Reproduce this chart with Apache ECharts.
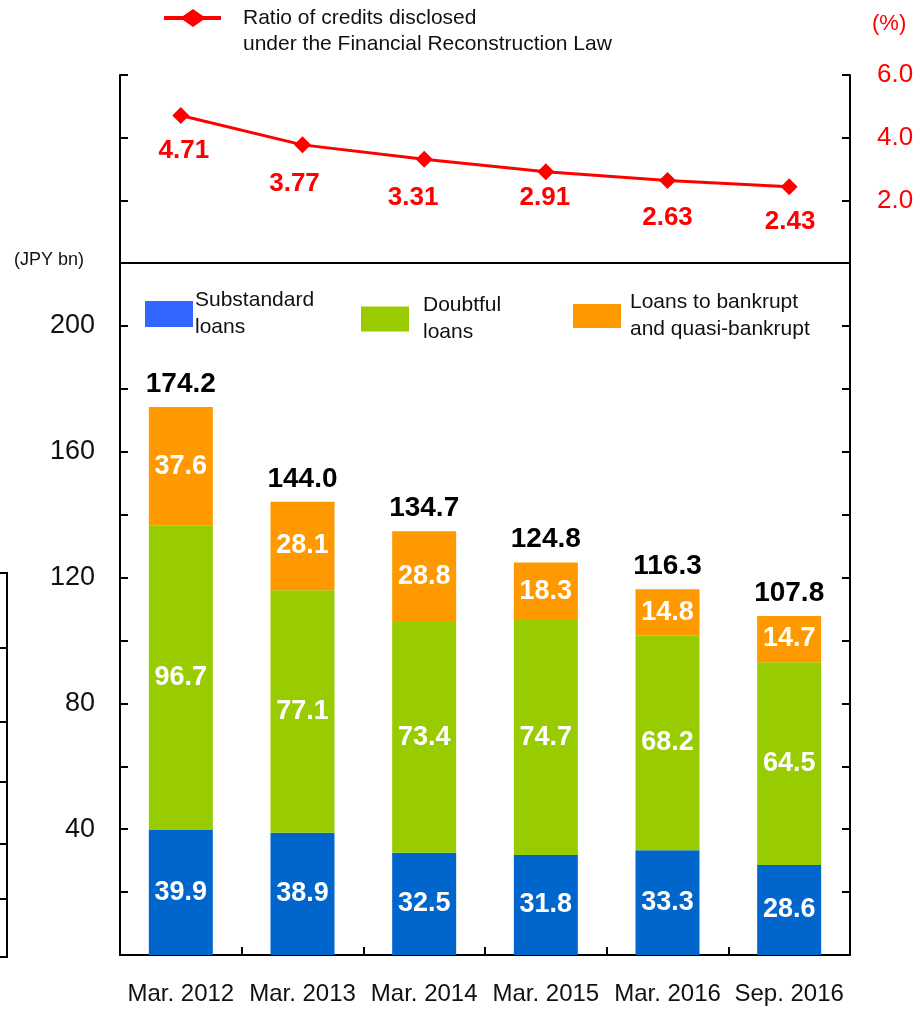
<!DOCTYPE html>
<html>
<head>
<meta charset="utf-8">
<script src="https://cdn.jsdelivr.net/npm/echarts@6/dist/echarts.min.js"></script>
<style>
html,body{margin:0;padding:0;background:#fff;}
#chart{width:924px;height:1009px;}
</style>
</head>
<body>
<div id="chart"></div>
<script>
// ---- data ----
const categories = ['Mar. 2012', 'Mar. 2013', 'Mar. 2014', 'Mar. 2015', 'Mar. 2016', 'Sep. 2016'];
const substandard = [39.9, 38.9, 32.5, 31.8, 33.3, 28.6];
const doubtful = [96.7, 77.1, 73.4, 74.7, 68.2, 64.5];
const bankrupt = [37.6, 28.1, 28.8, 18.3, 14.8, 14.7];
const totals = [174.2, 144.0, 134.7, 124.8, 116.3, 107.8];
const ratio = [4.71, 3.77, 3.31, 2.91, 2.63, 2.43];
const amountTickLabels = [40, 80, 120, 160, 200];
const ratioTickLabels = [2, 4, 6];

const seriesNames = {
  sub: 'Substandard loans',
  dbt: 'Doubtful loans',
  bkr: 'Loans to bankrupt and quasi-bankrupt',
  ratio: 'Ratio of credits disclosed under the Financial Reconstruction Law'
};
const legendText = {
  'Substandard loans': 'Substandard\nloans',
  'Doubtful loans': 'Doubtful\nloans',
  'Loans to bankrupt and quasi-bankrupt': 'Loans to bankrupt\nand quasi-bankrupt',
  'Ratio of credits disclosed under the Financial Reconstruction Law': '\nRatio of credits disclosed\nunder the Financial Reconstruction Law'
};

// label placement tweaks for the ratio line (style only)
const ratioLabelOffset = [[3, 35], [-8, 39], [-11, 39], [-1, 26], [0, 37], [1, 35]];

const FONT = '"Liberation Sans", Arial, Helvetica, sans-serif';
const AXIS = { lineStyle: { color: '#000', width: 2 } };
const LINE_ICON = 'path://M0,7 L19,7 L29,0 L39,7 L57,7 L57,11 L39,11 L29,18 L19,11 L0,11 Z';

const chart = echarts.init(document.getElementById('chart'));

const segLabel = {
  show: true, position: 'inside', color: '#fff', fontFamily: FONT,
  fontWeight: 'bold', fontSize: 27,
  formatter: p => p.value.toFixed(1)
};

const option = {
  animation: false,
  backgroundColor: '#fff',
  textStyle: { fontFamily: FONT },
  grid: [
    { left: 120, right: 74, top: 75, height: 188 },
    { left: 120, right: 74, top: 263, height: 692 }
  ],
  legend: [
    {
      data: [{ name: seriesNames.ratio, icon: LINE_ICON, itemStyle: { color: '#FF0000' } }],
      left: 164, top: -21, padding: 0,
      itemWidth: 57, itemHeight: 18,
      formatter: n => legendText[n],
      textStyle: { fontFamily: FONT, fontSize: 21, color: '#111', lineHeight: 26, padding: [0, 0, 0, 17] }
    },
    {
      data: [{ name: seriesNames.sub, icon: 'rect', itemStyle: { color: '#3366FF' } }], left: 145, top: 287, padding: 0,
      itemWidth: 48, itemHeight: 26,
      formatter: n => legendText[n],
      textStyle: { fontFamily: FONT, fontSize: 21, color: '#111', lineHeight: 27, padding: [0, 0, 0, -3] }
    },
    {
      data: [{ name: seriesNames.dbt, icon: 'rect', itemStyle: { color: '#99CC00' } }], left: 361, top: 292, padding: 0,
      itemWidth: 48, itemHeight: 25,
      formatter: n => legendText[n],
      textStyle: { fontFamily: FONT, fontSize: 21, color: '#111', lineHeight: 27, padding: [0, 0, 0, 9] }
    },
    {
      data: [{ name: seriesNames.bkr, icon: 'rect', itemStyle: { color: '#FF9900' } }], left: 573, top: 289, padding: 0,
      itemWidth: 48, itemHeight: 24,
      formatter: n => legendText[n],
      textStyle: { fontFamily: FONT, fontSize: 21, color: '#111', lineHeight: 27, padding: [0, 0, 0, 4] }
    }
  ],
  xAxis: [
    {
      type: 'category', gridIndex: 0, data: categories, boundaryGap: true,
      axisLine: AXIS, axisTick: { show: false }, axisLabel: { show: false }
    },
    {
      type: 'category', gridIndex: 1, data: categories, boundaryGap: true,
      axisLine: AXIS,
      axisTick: { show: true, inside: true, length: 8, interval: 0, lineStyle: { color: '#000', width: 2 } },
      axisLabel: { fontFamily: FONT, fontSize: 24, color: '#111', margin: 27, interval: 0 }
    }
  ],
  yAxis: [
    {
      type: 'value', gridIndex: 0, min: 0, max: 6, interval: 2, position: 'left',
      axisLine: { show: true, lineStyle: { color: '#000', width: 2 } },
      axisTick: { show: true, inside: true, length: 8, lineStyle: { color: '#000', width: 2 } },
      axisLabel: { show: false }, splitLine: { show: false }
    },
    {
      type: 'value', gridIndex: 0, min: 0, max: 6, interval: 2, position: 'right',
      axisLine: { show: true, lineStyle: { color: '#000', width: 2 } },
      axisTick: { show: true, inside: true, length: 8, lineStyle: { color: '#000', width: 2 } },
      axisLabel: {
        fontFamily: FONT, fontSize: 26, color: '#FF0000', margin: 27,
        formatter: v => ratioTickLabels.indexOf(v) >= 0 ? v.toFixed(1) : ''
      },
      splitLine: { show: false }
    },
    {
      type: 'value', gridIndex: 1, min: 0, max: 220, interval: 20, position: 'left',
      axisLine: { show: true, lineStyle: { color: '#000', width: 2 } },
      axisTick: { show: true, inside: true, length: 8, lineStyle: { color: '#000', width: 2 } },
      axisLabel: {
        fontFamily: FONT, fontSize: 27, color: '#111', margin: 25,
        formatter: v => amountTickLabels.indexOf(v) >= 0 ? String(v) : ''
      },
      splitLine: { show: false }
    },
    {
      type: 'value', gridIndex: 1, min: 0, max: 220, interval: 20, position: 'right',
      axisLine: { show: true, lineStyle: { color: '#000', width: 2 } },
      axisTick: { show: true, inside: true, length: 8, lineStyle: { color: '#000', width: 2 } },
      axisLabel: { show: false }, splitLine: { show: false }
    }
  ],
  series: [
    {
      name: seriesNames.ratio, type: 'line', xAxisIndex: 0, yAxisIndex: 1,
      data: ratio.map((v, i) => ({
        value: v,
        label: { offset: ratioLabelOffset[i] }
      })),
      symbol: 'diamond', symbolSize: 17,
      lineStyle: { color: '#FF0000', width: 3 },
      itemStyle: { color: '#FF0000' },
      label: {
        show: true, position: 'inside', color: '#FF0000', fontFamily: FONT,
        fontWeight: 'bold', fontSize: 26,
        formatter: p => p.value.toFixed(2)
      }
    },
    {
      name: seriesNames.sub, type: 'bar', xAxisIndex: 1, yAxisIndex: 2, stack: 'amt',
      data: substandard, barWidth: 64, itemStyle: { color: '#0066CC' }, label: segLabel
    },
    {
      name: seriesNames.dbt, type: 'bar', xAxisIndex: 1, yAxisIndex: 2, stack: 'amt',
      data: doubtful, barWidth: 64, itemStyle: { color: '#99CC00' }, label: segLabel
    },
    {
      name: seriesNames.bkr, type: 'bar', xAxisIndex: 1, yAxisIndex: 2, stack: 'amt',
      data: bankrupt, barWidth: 64, itemStyle: { color: '#FF9900' }, label: segLabel
    },
    {
      name: 'Total', type: 'scatter', xAxisIndex: 1, yAxisIndex: 2,
      data: totals, symbolSize: 0, silent: true,
      itemStyle: { opacity: 1, color: '#000' },
      label: {
        show: true, position: 'top', distance: 9, color: '#000', opacity: 1, fontFamily: FONT,
        fontWeight: 'bold', fontSize: 28,
        formatter: p => p.value.toFixed(1)
      }
    }
  ],
  graphic: [
    { type: 'text', left: 872, top: 13, style: { text: '(%)', fill: '#FF0000', font: '22px ' + FONT } },
    { type: 'text', left: 14, top: 251, style: { text: '(JPY bn)', fill: '#111', font: '18px ' + FONT } },
    { type: 'line', shape: { x1: 7, y1: 572, x2: 7, y2: 958 }, style: { stroke: '#000', lineWidth: 2 } },
    { type: 'line', shape: { x1: 0, y1: 573, x2: 7, y2: 573 }, style: { stroke: '#000', lineWidth: 2 } },
    { type: 'line', shape: { x1: 0, y1: 648, x2: 7, y2: 648 }, style: { stroke: '#000', lineWidth: 2 } },
    { type: 'line', shape: { x1: 0, y1: 722, x2: 7, y2: 722 }, style: { stroke: '#000', lineWidth: 2 } },
    { type: 'line', shape: { x1: 0, y1: 782, x2: 7, y2: 782 }, style: { stroke: '#000', lineWidth: 2 } },
    { type: 'line', shape: { x1: 0, y1: 844, x2: 7, y2: 844 }, style: { stroke: '#000', lineWidth: 2 } },
    { type: 'line', shape: { x1: 0, y1: 899, x2: 7, y2: 899 }, style: { stroke: '#000', lineWidth: 2 } },
    { type: 'line', shape: { x1: 0, y1: 957, x2: 7, y2: 957 }, style: { stroke: '#000', lineWidth: 2 } }
  ]
};

chart.setOption(option);
</script>
</body>
</html>
